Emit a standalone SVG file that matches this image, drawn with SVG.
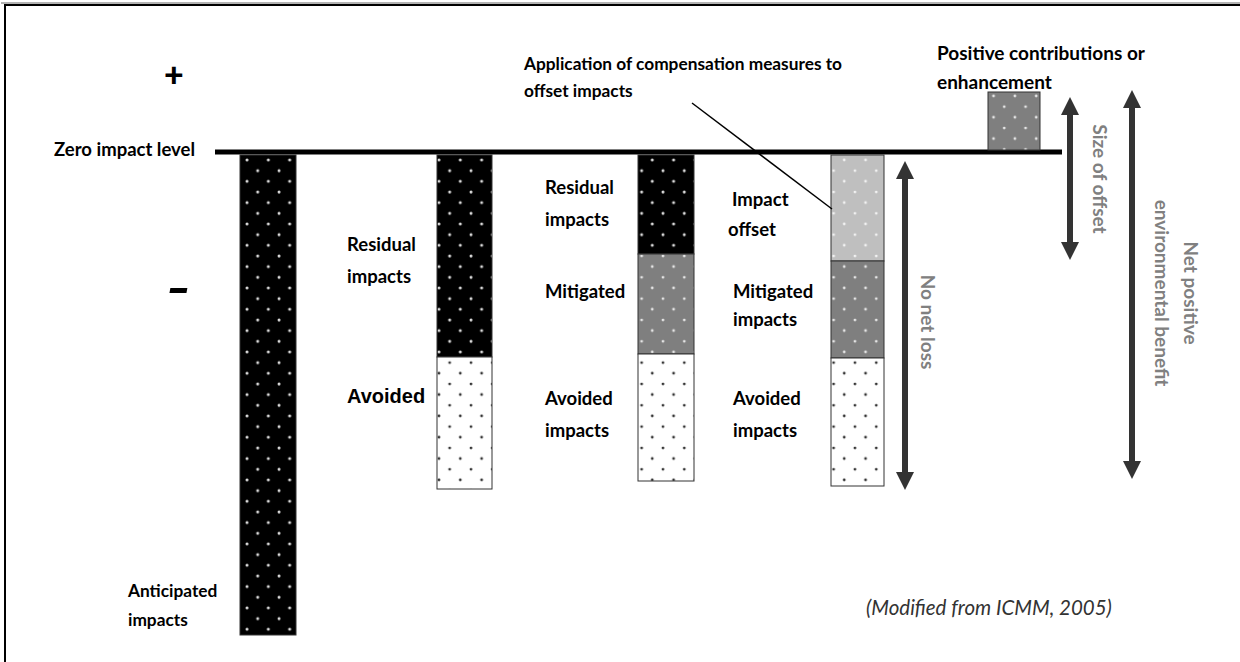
<svg xmlns="http://www.w3.org/2000/svg" width="1240" height="662" viewBox="0 0 1240 662">
<style>
.lbl{font-family:Lato,"Open Sans","Liberation Sans",sans-serif;font-weight:bold;font-size:18.5px;fill:#000}
.app{font-size:17.3px}
.pos{font-size:19px}
.ant{font-size:17.3px}
.rot{font-family:Lato,"Open Sans","Liberation Sans",sans-serif;font-weight:bold;font-size:19px;fill:#808080}
.bar{stroke:#333;stroke-width:1}
.arr{stroke:#333;stroke-width:6;fill:none}
</style>
<defs>
<pattern id="pk" patternUnits="userSpaceOnUse" width="21.33" height="21.33" x="245" y="158">
<rect width="21.33" height="21.33" fill="#000"/>
<circle cx="2" cy="2" r="1.5" fill="#ddd"/>
<circle cx="12.7" cy="12.7" r="1.5" fill="#ddd"/>
</pattern>
<pattern id="pg" patternUnits="userSpaceOnUse" width="21.33" height="21.33" x="245" y="158">
<rect width="21.33" height="21.33" fill="#7f7f7f"/>
<circle cx="2" cy="2" r="1.4" fill="#e6e6e6"/>
<circle cx="12.7" cy="12.7" r="1.4" fill="#e6e6e6"/>
</pattern>
<pattern id="pl" patternUnits="userSpaceOnUse" width="21.33" height="21.33" x="245" y="158">
<rect width="21.33" height="21.33" fill="#bfbfbf"/>
<circle cx="2" cy="2" r="1.4" fill="#f2f2f2"/>
<circle cx="12.7" cy="12.7" r="1.4" fill="#f2f2f2"/>
</pattern>
<pattern id="pw" patternUnits="userSpaceOnUse" width="21.33" height="21.33" x="245" y="158">
<rect width="21.33" height="21.33" fill="#fff"/>
<circle cx="2" cy="2" r="1.4" fill="#333"/>
<circle cx="12.7" cy="12.7" r="1.4" fill="#333"/>
</pattern>
<marker id="ah" viewBox="0 0 10 10" refX="5" refY="5" markerWidth="3" markerHeight="3" orient="auto-start-reverse" markerUnits="strokeWidth">
<path d="M0,0 L10,5 L0,10 z" fill="#333"/>
</marker>
</defs>
<rect width="1240" height="662" fill="#fff"/>
<path d="M5,700 V5 H1300" fill="none" stroke="#000" stroke-width="2"/>
<path d="M1,3 H1300" fill="none" stroke="#666" stroke-width="1"/>

<g id="zero-line">
<line x1="215" y1="152" x2="1062" y2="152" stroke="#000" stroke-width="5"/>
<text class="lbl" x="54" y="156">Zero impact level</text>
</g>
<g id="signs">
<text x="164" y="87" font-family="Lato,'Liberation Sans',sans-serif" font-weight="900" font-size="34">+</text>
<rect x="170" y="288" width="17" height="5" fill="#000" transform="skewX(-10)" transform-origin="178 290"/>
</g>

<g id="bar-anticipated">
<rect class="bar" x="240" y="155" width="56" height="480" fill="url(#pk)"/>
<text class="lbl ant" x="128" y="597">Anticipated</text>
<text class="lbl ant" x="128" y="626">impacts</text>
</g>

<g id="bar-avoid">
<rect class="bar" x="437" y="155" width="55" height="202" fill="url(#pk)"/>
<rect class="bar" x="437" y="357" width="55" height="132" fill="url(#pw)"/>
<text class="lbl" x="347" y="251">Residual</text>
<text class="lbl" x="347" y="283">impacts</text>
<text x="347" y="403" font-family="'Liberation Sans',Arial,sans-serif" font-weight="bold" font-size="20">Avoided</text>
</g>

<g id="bar-mitigate">
<rect class="bar" x="638" y="155" width="56" height="99" fill="url(#pk)"/>
<rect class="bar" x="638" y="254" width="56" height="100" fill="url(#pg)"/>
<rect class="bar" x="638" y="354" width="56" height="127" fill="url(#pw)"/>
<text class="lbl" x="545" y="194">Residual</text>
<text class="lbl" x="545" y="226">impacts</text>
<text class="lbl" x="545" y="298">Mitigated</text>
<text class="lbl" x="545" y="405">Avoided</text>
<text class="lbl" x="545" y="437">impacts</text>
</g>

<g id="bar-offset">
<rect class="bar" x="831" y="155" width="53" height="106" fill="url(#pl)"/>
<rect class="bar" x="831" y="261" width="53" height="97" fill="url(#pg)"/>
<rect class="bar" x="831" y="358" width="53" height="128" fill="url(#pw)"/>
<text class="lbl" x="732" y="206">Impact</text>
<text class="lbl" x="728" y="236">offset</text>
<text class="lbl" x="733" y="298">Mitigated</text>
<text class="lbl" x="733" y="326">impacts</text>
<text class="lbl" x="733" y="405">Avoided</text>
<text class="lbl" x="733" y="437">impacts</text>
</g>

<g id="positive-box">
<rect class="bar" x="988" y="92" width="52" height="58" fill="url(#pg)"/>
<text class="lbl pos" x="937" y="60">Positive contributions or</text>
<text class="lbl pos" x="937" y="89">enhancement</text>
</g>

<g id="compensation-note">
<text class="lbl app" x="524" y="70">Application of compensation measures to</text>
<text class="lbl app" x="524" y="97">offset impacts</text>
</g>

<g id="connectors">
<line x1="692" y1="103" x2="832" y2="209" stroke="#000" stroke-width="1.5"/>
<line class="arr" x1="905" y1="170" x2="905" y2="481" marker-start="url(#ah)" marker-end="url(#ah)"/>
<line class="arr" x1="1070" y1="106" x2="1070" y2="251" marker-start="url(#ah)" marker-end="url(#ah)"/>
<line class="arr" x1="1132" y1="99" x2="1132" y2="470" marker-start="url(#ah)" marker-end="url(#ah)"/>
</g>

<g id="arrow-labels">
<text class="rot" transform="translate(921,322) rotate(90)" text-anchor="middle">No net loss</text>
<text class="rot" transform="translate(1093,179) rotate(90)" text-anchor="middle">Size of offset</text>
<text class="rot" transform="translate(1184,293) rotate(90)" text-anchor="middle">Net positive</text>
<text class="rot" transform="translate(1155,293) rotate(90)" text-anchor="middle">environmental benefit</text>
</g>

<text x="866" y="615" font-family="Lato,'Open Sans','Liberation Sans',sans-serif" font-style="italic" font-size="20.5" fill="#333">(Modified from ICMM, 2005)</text>
</svg>
